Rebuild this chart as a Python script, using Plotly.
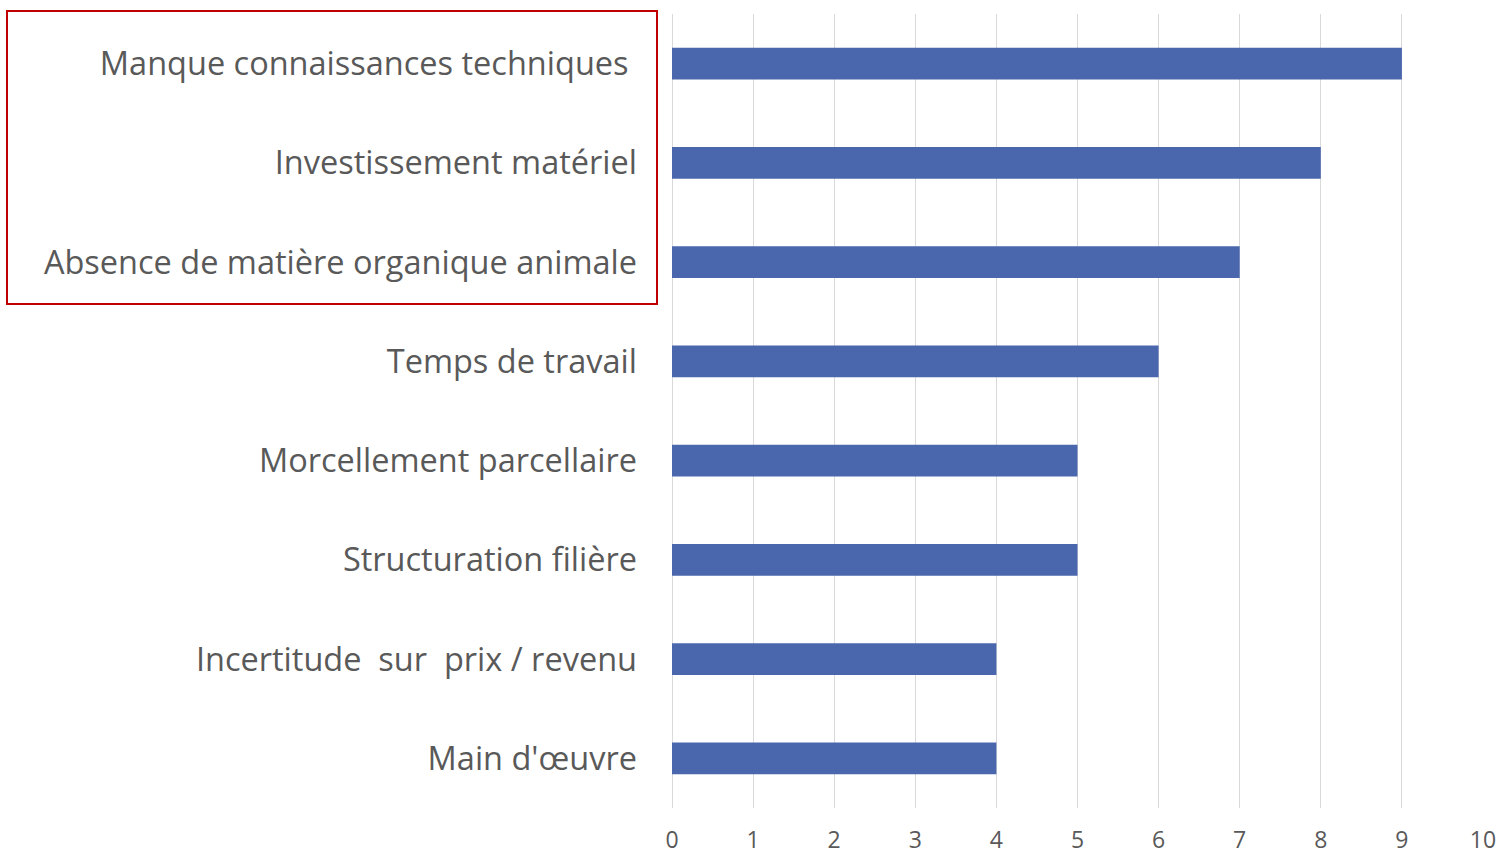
import plotly.graph_objects as go

categories = [
    "Manque connaissances techniques ",
    "Investissement matériel",
    "Absence de matière organique animale",
    "Temps de travail",
    "Morcellement parcellaire",
    "Structuration filière",
    "Incertitude  sur  prix / revenu",
    "Main d'œuvre",
]
values = [9, 8, 7, 6, 5, 5, 4, 4]
x_ticks = [0, 1, 2, 3, 4, 5, 6, 7, 8, 9, 10]

W, H = 1501, 856
L, R, T, B = 672, 18, 14, 48
pw, ph = W - L - R, H - T - B

def px_x(px):
    return (px - L) / pw

def px_y(py):
    return (H - B - py) / ph

fig = go.Figure(go.Bar(
    x=values, y=categories, orientation="h",
    marker=dict(color="#4A66AC", line=dict(width=0)),
))

fig.update_layout(
    width=W, height=H,
    margin=dict(l=L, r=R, t=T, b=B),
    plot_bgcolor="white", paper_bgcolor="white",
    bargap=0.68, showlegend=False,
    font=dict(family="Open Sans", color="#595959"),
)
fig.update_xaxes(
    range=[0, 10], tickvals=x_ticks, ticktext=[str(v) for v in x_ticks],
    showgrid=True, gridcolor="#D9D9D9", gridwidth=1,
    zeroline=True, zerolinecolor="#D9D9D9", zerolinewidth=1,
    showline=False, ticks="", tickfont=dict(size=23, color="#595959"),
    ticklabelstandoff=16, automargin=False,
)
fig.update_yaxes(
    autorange="reversed", showgrid=False, showline=False, ticks="",
    tickfont=dict(size=32.5, color="#595959"), ticklabelstandoff=34,
    automargin=False,
)
fig.add_shape(
    type="rect", xref="paper", yref="paper",
    x0=px_x(7), x1=px_x(657), y0=px_y(304), y1=px_y(11),
    line=dict(color="#C00000", width=2), fillcolor="rgba(0,0,0,0)",
)

fig.write_html(
    "out.html",
    config={"displayModeBar": False},
    post_script="document.body.style.margin='0';document.body.style.overflow='hidden';",
)
